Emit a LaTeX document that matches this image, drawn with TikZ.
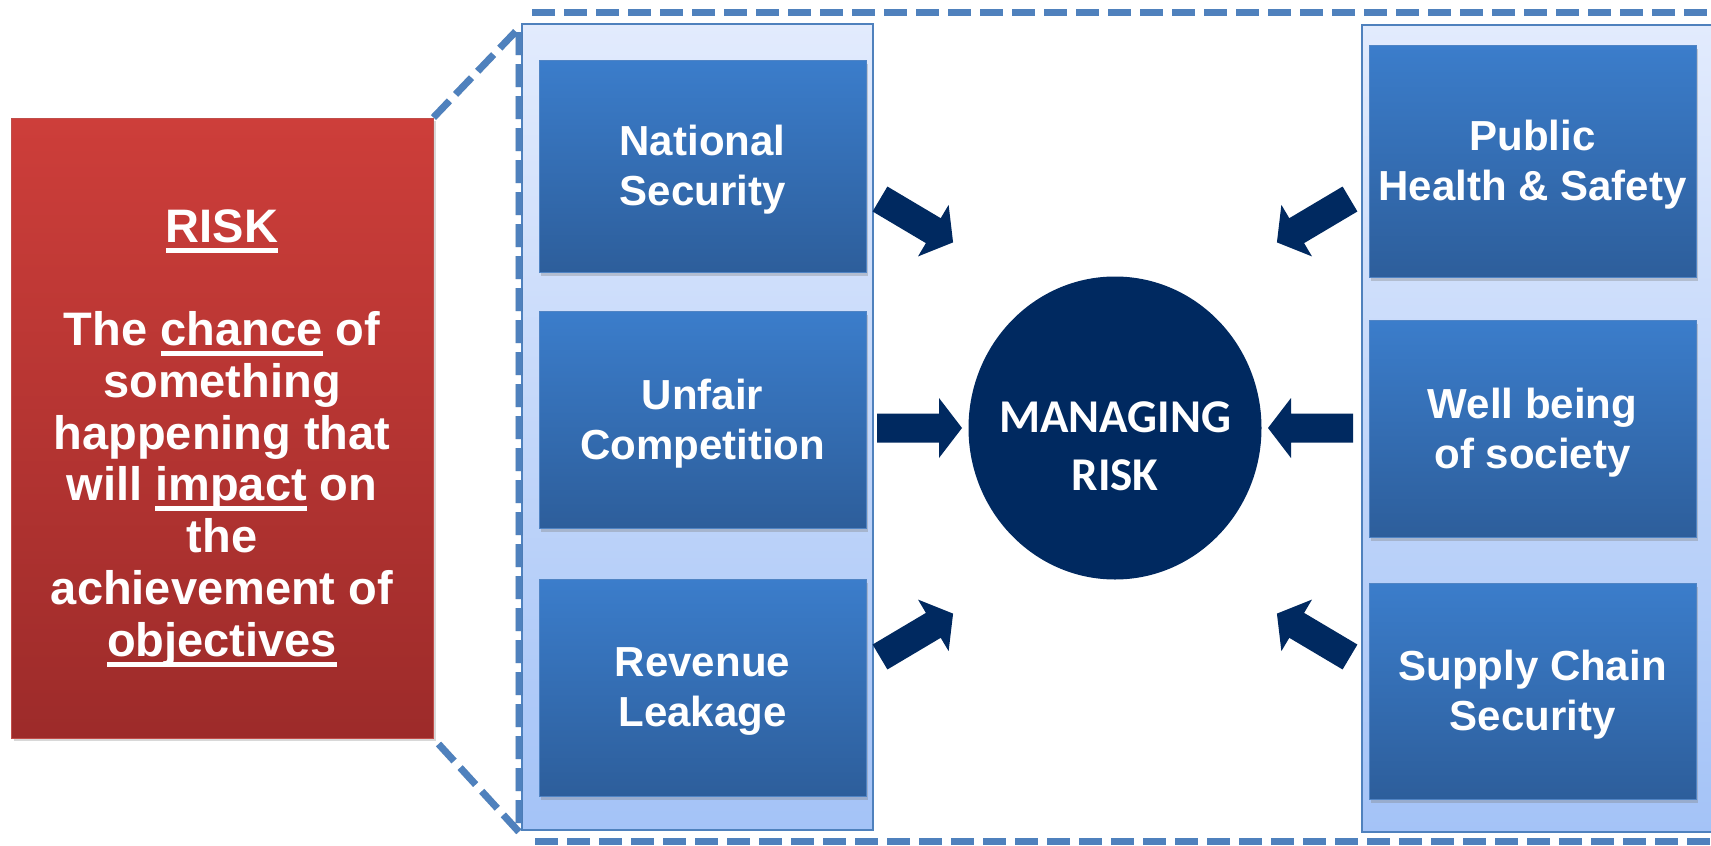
\documentclass[tikz,border=0pt]{standalone}
\usepackage{fontspec}
\setmainfont{Liberation Sans}
\newfontfamily\calibfont{Carlito}
\usetikzlibrary{shapes.geometric,shadows}
\definecolor{redtop}{RGB}{205,62,58}
\definecolor{redbot}{RGB}{157,43,42}
\definecolor{redline}{RGB}{192,78,74}
\definecolor{boxtop}{RGB}{59,125,203}
\definecolor{boxbot}{RGB}{45,94,155}
\definecolor{boxline}{RGB}{80,132,196}
\definecolor{paneltop}{RGB}{226,235,253}
\definecolor{panelbot}{RGB}{164,195,247}
\definecolor{dashblue}{RGB}{79,129,189}
\definecolor{navy}{RGB}{0,41,96}
\newsavebox\ulbox
\newcommand\myul[1]{\sbox\ulbox{#1}\rlap{\rule[-10.5pt]{\wd\ulbox}{5pt}}\usebox\ulbox}
\newcommand\blockarr[4]{%
  \begin{scope}[shift={(#2,#3)}, rotate=#4]
    \coordinate (#1) at (0,0);
    \fill[navy] (0,-14.5) -- (62,-14.5) -- (62,-30) -- (85,0) -- (62,30) -- (62,14.5) -- (0,14.5) -- cycle;
  \end{scope}}
\tikzset{
  redbox/.style={rectangle, inner sep=0pt, minimum width=422pt, minimum height=620pt,
    top color=redtop, bottom color=redbot, draw=redline, line width=1pt,
    drop shadow={shadow xshift=3pt, shadow yshift=-3pt, opacity=.3}},
  panel/.style={rectangle, inner sep=0pt, top color=paneltop, bottom color=panelbot,
    draw=dashblue, line width=1.6pt},
  bluebox/.style={rectangle, inner sep=0pt, minimum width=327pt,
    top color=boxtop, bottom color=boxbot, draw=boxline, line width=1pt,
    drop shadow={shadow xshift=2pt, shadow yshift=-4pt, opacity=.35}},
  boxtext/.style={text=white, font=\bfseries\fontsize{42}{50}\selectfont, align=center},
  dashln/.style={draw=dashblue, line width=7pt, dash pattern=on 23pt off 9pt},
  dashshade/.style={draw=black, opacity=.15, line width=7pt, dash pattern=on 23pt off 9pt},
}
\begin{document}
\begin{tikzpicture}[x=1pt,y=-1pt]
\useasboundingbox (0,0) rectangle (1711,846);
\clip (0,0) rectangle (1711,846);
\fill[white] (0,0) rectangle (1711,846);

% panels
\node[panel, minimum width=351pt, minimum height=806pt] (lp) at (697.5,427) {};
\node[panel, minimum width=363pt, minimum height=807pt] (rp) at (1543.5,428.5) {};

% dashed callout lines
\coordinate (d1) at (519,28);
\coordinate (d2) at (519,832);
\coordinate (t1) at (532,12);
\coordinate (t2) at (1725,12);
\coordinate (b1) at (535,841);
\coordinate (b2) at (1725,841);

% red box
\node[redbox] (risk) at (222,428) {};
\node[text=white, font=\bfseries\fontsize{47}{51.75}\selectfont, align=center] (risktext) at (222,438)
  {\myul{RISK}\\[51.75pt]The \myul{chance} of\\something\\happening that\\will \myul{impact} on\\the\\achievement of\\\myul{objectives}};

\begin{scope}[shift={(2,3)}]
\draw[dashshade] (risk.north east) -- (d1) -- (d2) -- (risk.south east);
\draw[dashshade] (t1) -- (t2);
\draw[dashshade] (b1) -- (b2);
\end{scope}
\draw[dashln] (risk.north east) -- (d1) -- (d2) -- (risk.south east);
\draw[dashln] (t1) -- (t2);
\draw[dashln] (b1) -- (b2);

% left boxes
\node[bluebox, minimum height=212pt] (ns) at (702.5,166) {};
\node[boxtext] (ns-t) at ([yshift=-4pt]ns.center) {National\\Security};
\node[bluebox, minimum height=217pt] (uc) at (702.5,419.5) {};
\node[boxtext] (uc-t) at ([yshift=-4pt]uc.center) {Unfair\\Competition};
\node[bluebox, minimum height=217pt] (rl) at (702.5,687.5) {};
\node[boxtext] (rl-t) at ([yshift=-4pt]rl.center) {Revenue\\Leakage};

% right boxes
\node[bluebox, minimum height=232pt] (ph) at (1532.5,161) {};
\node[boxtext] (ph-t) at ([yshift=-4pt]ph.center) {Public\\Health \& Safety};
\node[bluebox, minimum height=217pt] (wb) at (1532.5,428.5) {};
\node[boxtext] (wb-t) at ([yshift=-4pt]wb.center) {Well being\\of society};
\node[bluebox, minimum height=216pt] (sc) at (1532.5,691) {};
\node[boxtext] (sc-t) at ([yshift=-4pt]sc.center) {Supply Chain\\Security};

% centre circle
\node[ellipse, fill=navy, inner sep=0pt, minimum width=293pt, minimum height=303pt] (mr) at (1115,428) {};
\node[text=white, font=\calibfont\bfseries\fontsize{47}{58}\selectfont, align=center] (mr-t) at (1115,446) {MANAGING\\RISK};

% block arrows
\blockarr{a1}{880}{199}{-30.7}
\blockarr{a2}{877}{428}{0}
\blockarr{a3}{880}{657}{30.7}
\blockarr{a4}{1350}{199}{210.7}
\blockarr{a5}{1353}{428}{180}
\blockarr{a6}{1350}{657}{149.3}
\end{tikzpicture}
\end{document}
